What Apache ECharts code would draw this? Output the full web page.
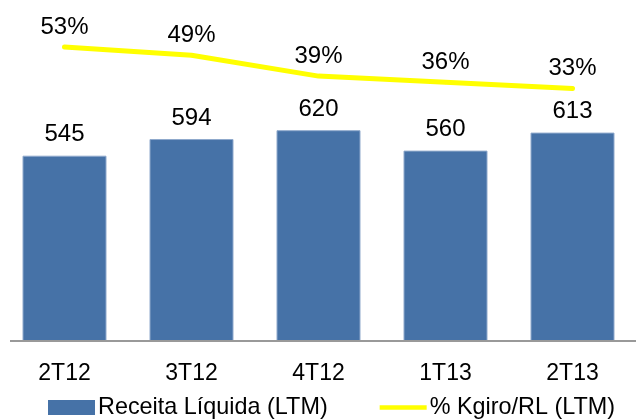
<!DOCTYPE html>
<html>
<head>
<meta charset="utf-8">
<style>
  html, body { margin: 0; padding: 0; background: #ffffff; }
  #chart { width: 636px; height: 419px; }
</style>
<script src="https://cdn.jsdelivr.net/npm/echarts@6/dist/echarts.min.js"></script>
</head>
<body>
<div id="chart"></div>
<script>
// Quarterly revenue (LTM) with working-capital ratio overlay
const quarters = ['2T12', '3T12', '4T12', '1T13', '2T13'];
const receitaLiquida = [545, 594, 620, 560, 613];
const kgiroPct = [53, 49, 39, 36, 33];
const seriesNames = ['Receita Líquida (LTM)', '% Kgiro/RL (LTM)'];

const FONT = '"Liberation Sans", Arial, sans-serif';
const chart = echarts.init(document.getElementById('chart'), null, { renderer: 'canvas' });

chart.setOption({
  animation: false,
  backgroundColor: '#ffffff',
  textStyle: { fontFamily: FONT, color: '#000' },
  grid: { left: 1, top: 1, width: 657.5, height: 340, containLabel: false },
  legend: {
    left: 48,
    top: 396,
    padding: 0,
    itemWidth: 47,
    itemHeight: 15,
    itemGap: 52,
    symbolKeepAspect: true,
    textStyle: { fontFamily: FONT, fontSize: 23.4, color: '#000', padding: [0, 0, 0, -2] },
    data: [
      { name: seriesNames[0], icon: 'rect', itemStyle: { color: '#4672A7', borderWidth: 0 } },
      { name: seriesNames[1], icon: 'path://M0,0H50V5H0Z', itemStyle: { color: '#FFFF00', opacity: 1, borderWidth: 0 } }
    ]
  },
  xAxis: {
    type: 'category',
    data: quarters,
    axisLine: { show: false },
    axisTick: { show: false },
    axisLabel: { fontFamily: FONT, fontSize: 23, color: '#000', margin: 21 }
  },
  yAxis: [
    { type: 'value', min: 0, max: 1000, show: false, splitLine: { show: false } },
    { type: 'value', min: -88, max: 75, show: false, splitLine: { show: false } }
  ],
  graphic: [
    {
      type: 'line',
      shape: { x1: 10, y1: 341, x2: 636, y2: 341 },
      style: { stroke: '#999999', lineWidth: 2 },
      z: 10
    }
  ],
  series: [
    {
      name: seriesNames[0],
      type: 'bar',
      data: receitaLiquida,
      barWidth: 84,
      itemStyle: { color: '#4672A7', borderColor: '#8fa9cc', borderWidth: 1 },
      label: {
        show: true,
        position: 'top',
        distance: 9,
        fontFamily: FONT,
        fontSize: 24,
        color: '#000'
      }
    },
    {
      name: seriesNames[1],
      type: 'line',
      yAxisIndex: 1,
      data: kgiroPct,
      symbol: 'circle',
      symbolSize: 4,
      showSymbol: true,
      lineStyle: { color: '#FFFF00', width: 5, cap: 'round', join: 'round' },
      itemStyle: { color: '#FFFF00', borderWidth: 0 },
      label: {
        show: true,
        position: 'top',
        distance: 6,
        fontFamily: FONT,
        fontSize: 24,
        color: '#000',
        formatter: p => p.value + '%'
      },
      z: 5
    }
  ]
});
</script>
</body>
</html>
